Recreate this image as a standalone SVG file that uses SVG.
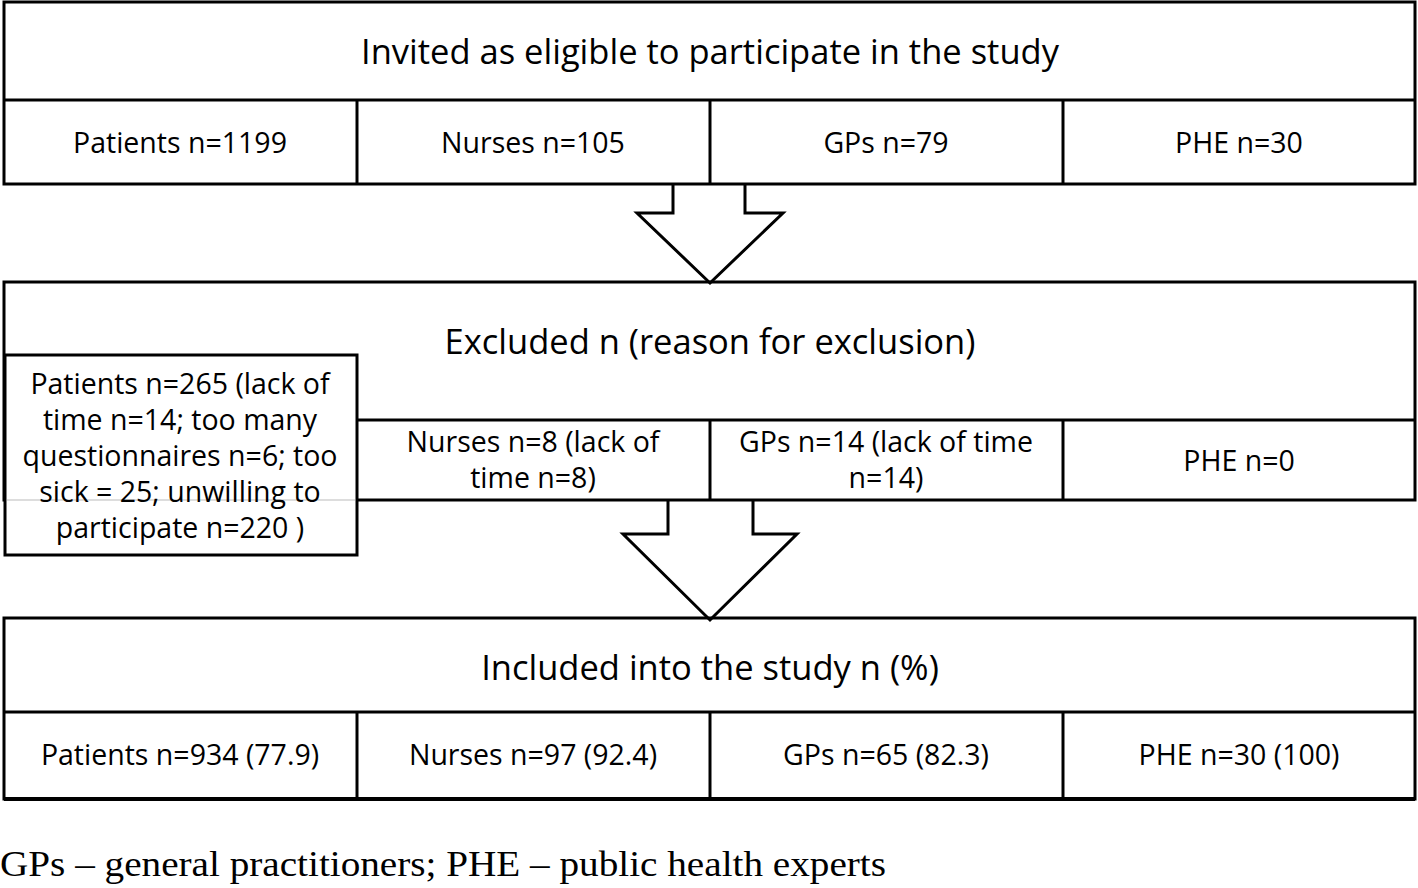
<svg xmlns="http://www.w3.org/2000/svg" width="1418" height="888" viewBox="0 0 1418 888">
<style>
.b{fill:#fff;stroke:#000;stroke-width:3}
.o{fill:none;stroke:#000;stroke-width:3}
.l{stroke:#000;stroke-width:3;fill:none}
.t{font-family:"Open Sans","Noto Sans",sans-serif;fill:#000;text-anchor:middle;dominant-baseline:central}
.h{font-size:34.5px}
.c{font-size:28.5px}
.a{fill:#fff;stroke:#000;stroke-width:3;stroke-linejoin:miter}
.f{font-family:"Liberation Serif","Times New Roman",serif;font-size:35px;fill:#000}
</style>
<rect width="1418" height="888" fill="#fff"/>
<g id="connectors">
<path class="a" d="M673,185 L673,213 L637,213 L710,283 L783,213 L745,213 L745,185"/>
<path class="a" d="M668,500 L668,534 L623,534 L710,620 L797,534 L753,534 L753,500"/>
</g>
<g id="invited">
<rect class="o" x="4" y="2" width="1411" height="182"/>
<line class="l" x1="4" y1="100" x2="1415" y2="100"/>
<line class="l" x1="357" y1="100" x2="357" y2="184"/>
<line class="l" x1="710" y1="100" x2="710" y2="184"/>
<line class="l" x1="1063" y1="100" x2="1063" y2="184"/>
<text class="t h" x="710" y="50">Invited as eligible to participate in the study</text>
<text class="t c" x="180" y="142">Patients n=1199</text>
<text class="t c" x="533" y="142">Nurses n=105</text>
<text class="t c" x="886" y="142">GPs n=79</text>
<text class="t c" x="1239" y="142">PHE n=30</text>
</g>
<g id="excluded">
<rect class="o" x="4" y="282" width="1411" height="218"/>
<line class="l" x1="357" y1="420" x2="1415" y2="420"/>
<line class="l" x1="710" y1="420" x2="710" y2="500"/>
<line class="l" x1="1063" y1="420" x2="1063" y2="500"/>
<text class="t h" x="710" y="340">Excluded n (reason for exclusion)</text>
<text class="t c" x="533" y="441">Nurses n=8 (lack of</text>
<text class="t c" x="533" y="477">time n=8)</text>
<text class="t c" x="886" y="441">GPs n=14 (lack of time</text>
<text class="t c" x="886" y="477">n=14)</text>
<text class="t c" x="1239" y="460">PHE n=0</text>
</g>
<g id="excluded-patients">
<rect class="b" x="5" y="355" width="352" height="200"/>
<line x1="7" y1="500" x2="355" y2="500" stroke="#ddd" stroke-width="2"/>
<text class="t c" x="180" y="383">Patients n=265 (lack of</text>
<text class="t c" x="180" y="419">time n=14; too many</text>
<text class="t c" x="180" y="455">questionnaires n=6; too</text>
<text class="t c" x="180" y="491">sick = 25; unwilling to</text>
<text class="t c" x="180" y="527">participate n=220 )</text>
</g>
<g id="included">
<rect class="o" x="4" y="618" width="1411" height="181"/>
<line x1="4" y1="799" x2="1415" y2="799" stroke="#000" stroke-width="4"/>
<line class="l" x1="4" y1="712" x2="1415" y2="712"/>
<line class="l" x1="357" y1="712" x2="357" y2="799"/>
<line class="l" x1="710" y1="712" x2="710" y2="799"/>
<line class="l" x1="1063" y1="712" x2="1063" y2="799"/>
<text class="t h" x="710" y="666">Included into the study n (%)</text>
<text class="t c" x="180" y="754">Patients n=934 (77.9)</text>
<text class="t c" x="533" y="754">Nurses n=97 (92.4)</text>
<text class="t c" x="886" y="754">GPs n=65 (82.3)</text>
<text class="t c" x="1239" y="754">PHE n=30 (100)</text>
</g>
<g id="footnote">
<text class="f" x="0" y="876" textLength="886" lengthAdjust="spacingAndGlyphs">GPs – general practitioners; PHE – public health experts</text>
</g>
</svg>
